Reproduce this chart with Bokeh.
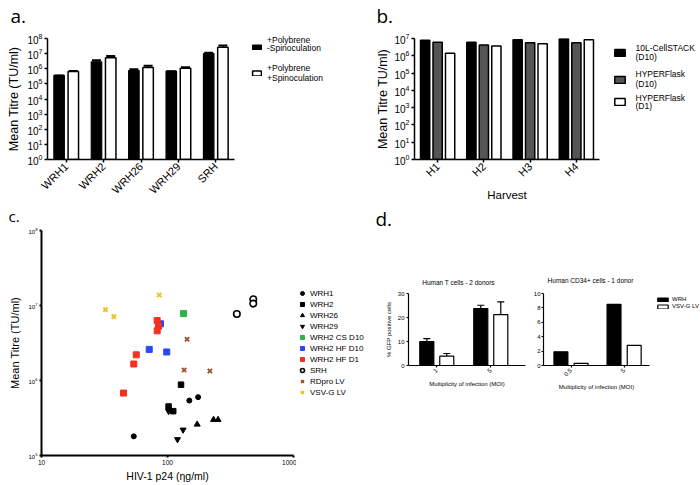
from math import pi
from bokeh.plotting import figure
from bokeh.models import (FactorRange, Range1d, FixedTicker, Label, Legend, LegendItem,
                          Whisker, ColumnDataSource, NumeralTickFormatter, TeeHead)
from bokeh.layouts import column, row
from bokeh.transform import dodge
from bokeh.embed import file_html
from bokeh.resources import INLINE

FONT = "Liberation Sans"
PFONT = "Open Sans"
NAN = float("nan")

# ---------------- data ----------------
# panel a
groups_a = ["WRH1", "WRH2", "WRH26", "WRH29", "SRH"]
titre_no_spin = [3.6e5, 2.9e6, 7.6e5, 6.9e5, 1.0e7]
titre_no_spin_hi = [3.6e5, 3.6e6, 9.2e5, 6.9e5, 1.16e7]
titre_spin = [6.6e5, 5.3e6, 1.23e6, 1.07e6, 2.6e7]
titre_spin_hi = [7.2e5, 7.0e6, 1.58e6, 1.24e6, 3.4e7]
ticks_a = [1, 1e1, 1e2, 1e3, 1e4, 1e5, 1e6, 1e7, 1e8]

# panel b
harvests = ["H1", "H2", "H3", "H4"]
cellstack_d10 = [8.0e6, 6.0e6, 8.5e6, 1.0e7]
hyperflask_d10 = [6.0e6, 4.2e6, 5.6e6, 5.6e6]
hyperflask_d1 = [1.4e6, 3.7e6, 5.0e6, 8.5e6]
ticks_b = [1, 1e1, 1e2, 1e3, 1e4, 1e5, 1e6, 1e7]

# panel c
wrh1_p24 = [54, 149, 175]
wrh1_titre = [1.8e5, 5.4e5, 6.0e5]
wrh2_p24 = [128, 102, 111]
wrh2_titre = [8.8e5, 4.5e5, 3.9e5]
wrh26_p24 = [172, 232, 252]
wrh26_titre = [2.6e5, 3.0e5, 3.0e5]
wrh29_p24 = [102, 133, 120]
wrh29_titre = [3.9e5, 2.2e5, 1.64e5]
cs_d10_p24 = [134]
cs_d10_titre = [7.8e6]
hf_d10_p24 = [88, 71.6, 98.6]
hf_d10_titre = [5.7e6, 2.6e6, 2.4e6]
hf_d1_p24 = [82.8, 84.9, 82.8, 56.5, 54, 44.8]
hf_d1_titre = [6.3e6, 5.3e6, 4.6e6, 2.2e6, 1.66e6, 6.8e5]
srh_p24 = [355, 479, 479]
srh_titre = [7.7e6, 1.21e7, 1.06e7]
rdpro_p24 = [143, 135.5, 217]
rdpro_titre = [3.55e6, 1.38e6, 1.34e6]
vsvg_p24 = [32.2, 37.5, 85.9]
vsvg_titre = [8.8e6, 7.1e6, 1.38e7]
ticks_cx = [10, 100, 1000]
ticks_cy = [1e5, 1e6, 1e7, 1e8]

# panel d
moi_t = ["1", "5"]
t_wrh = [10.0, 23.7]
t_wrh_hi = [11.2, 25.1]
t_vsv = [3.9, 21.2]
t_vsv_hi = [5.0, 26.5]
ticks_dt = [0, 10, 20, 30]
moi_cd34 = ["0.5", "5"]
cd34_wrh = [1.9, 8.5]
cd34_vsv = [0.3, 2.8]
ticks_dc = [0, 2, 4, 6, 8, 10]


# ---------------- helpers ----------------
def make_fig(width, height, left, right, top, bottom, **kw):
    p = figure(width=width, height=height, min_border_left=left, min_border_right=right,
               min_border_top=top, min_border_bottom=bottom, output_backend="svg",
               toolbar_location=None, title=None, **kw)
    p.xgrid.visible = False
    p.ygrid.visible = False
    p.outline_line_color = None
    p.background_fill_color = "white"
    p.border_fill_color = "white"
    return p


def blank_fig(left, top, width, height):
    """axis-less helper canvas whose data coordinates equal page pixels"""
    p = figure(width=width, height=height, x_range=Range1d(left, left + width),
               y_range=Range1d(top + height, top), x_axis_type=None, y_axis_type=None,
               output_backend="svg", toolbar_location=None, title=None,
               min_border_left=0, min_border_right=0, min_border_top=0, min_border_bottom=0)
    p.outline_line_color = None
    p.background_fill_color = "white"
    p.border_fill_color = "white"
    p._page = (left, top + height)
    return p


def style_axis(ax, tick_size, label_size=None, line_width=1.5, tick_out=3, standoff=2,
               label_standoff=3):
    ax.axis_line_width = line_width
    ax.axis_line_color = "black"
    ax.major_tick_line_width = line_width
    ax.major_tick_line_color = "black"
    ax.major_tick_out = tick_out
    ax.major_tick_in = 0
    ax.minor_tick_line_color = None
    ax.major_label_text_font = FONT
    ax.major_label_text_font_size = f"{tick_size}px"
    ax.major_label_text_color = "black"
    ax.major_label_standoff = standoff
    ax.axis_label_text_font = FONT
    ax.axis_label_text_font_style = "normal"
    ax.axis_label_text_color = "black"
    if label_size:
        ax.axis_label_text_font_size = f"{label_size}px"
    ax.axis_label_standoff = label_standoff


def txt(p, x, y, text, size, align="left", font=FONT):
    p.add_layout(Label(x=x, y=y, text=text, text_font=font, text_font_size=f"{size}px",
                       text_align=align, text_baseline="middle", text_color="black"))


def legend_at(p, items, x_left, y_bottom, gw, gh, size=8, spacing=0, standoff=3,
              label_height=None):
    left, bottom = p._page
    leg = Legend(items=items, location=(x_left - left, bottom - y_bottom), glyph_width=gw,
                 glyph_height=gh, padding=0, spacing=spacing, margin=0,
                 label_height=label_height if label_height is not None else gh,
                 label_standoff=standoff, label_text_font=FONT,
                 label_text_font_size=f"{size}px", label_text_color="black",
                 border_line_alpha=0, background_fill_alpha=0)
    p.add_layout(leg)


def bar_proxy(p, **style):
    # legend stand-in: one bar with no finite position, so nothing is drawn in the plot area
    return p.vbar(x=[NAN], top=[NAN], width=1, **style)


def swatch(p, x_left, y_bottom, gw, gh, **style):
    proxy = bar_proxy(p, **style)
    left, bottom = p._page
    leg = Legend(items=[LegendItem(label=" ", renderers=[proxy])],
                 location=(x_left - left, bottom - y_bottom), glyph_width=gw, glyph_height=gh,
                 padding=0, spacing=0, margin=0, label_height=gh, label_width=0,
                 label_standoff=0, label_text_font_size="1px",
                 border_line_alpha=0, background_fill_alpha=0)
    p.add_layout(leg)


# ---------------- top strip: panel letters a., b. ----------------
s_ab = blank_fig(0, 0, 700, 32)
txt(s_ab, 10, 15.2, "a.", 19, font=PFONT)
txt(s_ab, 376, 15.2, "b.", 19, font=PFONT)

# ---------------- panel a ----------------
src_a = ColumnDataSource(dict(group=groups_a, no_spin=titre_no_spin, no_spin_hi=titre_no_spin_hi,
                              spin=titre_spin, spin_hi=titre_spin_hi))
fa = make_fig(239, 171, 47, 5, 6, 41,
              x_range=FactorRange(factors=groups_a, range_padding=0),
              y_axis_type="log", y_range=Range1d(1, 1e8))
fa.vbar(x=dodge("group", -0.19, range=fa.x_range), top="no_spin", bottom=1, width=0.28,
        source=src_a, fill_color="black", line_color="black", line_width=1.2)
fa.vbar(x=dodge("group", 0.19, range=fa.x_range), top="spin", bottom=1, width=0.28,
        source=src_a, fill_color="white", line_color="black", line_width=1.5)
for off, lo, hi in [(-0.19, "no_spin", "no_spin_hi"), (0.19, "spin", "spin_hi")]:
    fa.add_layout(Whisker(base=dodge("group", off, range=fa.x_range), lower=lo, upper=hi,
                          source=src_a, line_width=1.5, lower_head=None,
                          upper_head=TeeHead(size=9, line_width=2)))
fa.yaxis.ticker = FixedTicker(ticks=ticks_a)
fa.yaxis.axis_label = "Mean Titre (TU/ml)"
style_axis(fa.yaxis[0], 10, 12.5, tick_out=3, standoff=2, label_standoff=3)
style_axis(fa.xaxis[0], 11, tick_out=3, standoff=2)
fa.xaxis.major_label_orientation = pi / 4

leg_a = blank_fig(239, 32, 111, 171)
swatch(leg_a, 251, 50, 11, 6, fill_color="black", line_color="black", line_width=1.2)
swatch(leg_a, 251, 76, 11, 6, fill_color="white", line_color="black", line_width=1.5)
txt(leg_a, 266.5, 39, "+Polybrene", 8.5)
txt(leg_a, 266.5, 47.7, "-Spinoculation", 8.5)
txt(leg_a, 266.5, 67.3, "+Polybrene", 8.5)
txt(leg_a, 266.5, 77.3, "+Spinoculation", 8.5)

# ---------------- panel b ----------------
src_b = ColumnDataSource(dict(h=harvests, cs=cellstack_d10, hf10=hyperflask_d10, hf1=hyperflask_d1))
fb = make_fig(254, 171, 64, 5, 6, 41,
              x_range=FactorRange(factors=harvests, range_padding=0),
              y_axis_type="log", y_range=Range1d(1, 1e7))
fb.vbar(x=dodge("h", -0.27, range=fb.x_range), top="cs", bottom=1, width=0.2, source=src_b,
        fill_color="black", line_color="black", line_width=1.5)
fb.vbar(x=dodge("h", 0.0, range=fb.x_range), top="hf10", bottom=1, width=0.2, source=src_b,
        fill_color="#555555", line_color="black", line_width=1.5)
fb.vbar(x=dodge("h", 0.27, range=fb.x_range), top="hf1", bottom=1, width=0.2, source=src_b,
        fill_color="white", line_color="black", line_width=1.5)
fb.yaxis.ticker = FixedTicker(ticks=ticks_b)
fb.yaxis.axis_label = "Mean Titre TU/ml)"
fb.xaxis.axis_label = "Harvest"
style_axis(fb.yaxis[0], 10, 12.5, tick_out=3, standoff=2, label_standoff=1)
style_axis(fb.xaxis[0], 11, 11.5, tick_out=3, standoff=2, label_standoff=3)
fb.xaxis.major_label_orientation = pi / 4

leg_b = blank_fig(604, 32, 96, 171)
swatch(leg_b, 613, 56.7, 13, 9, fill_color="black", line_color="black", line_width=1.5)
swatch(leg_b, 613, 84.2, 13, 9, fill_color="#555555", line_color="black", line_width=1.5)
swatch(leg_b, 613, 105.5, 13, 9, fill_color="white", line_color="black", line_width=1.5)
txt(leg_b, 635, 47.7, "10L-CellSTACK", 8.5)
txt(leg_b, 635, 56.7, "(D10)", 8.5)
txt(leg_b, 635, 73.5, "HYPERFlask", 8.5)
txt(leg_b, 635, 83, "(D10)", 8.5)
txt(leg_b, 635, 97, "HYPERFlask", 8.5)
txt(leg_b, 635, 105.5, "(D1)", 8.5)

# ---------------- panel c ----------------
s_c = blank_fig(0, 203, 296, 22)
txt(s_c, 8, 215, "c.", 15, font=PFONT)

fc = make_fig(296, 260, 41, 3, 5, 30, x_axis_type="log", y_axis_type="log",
              x_range=Range1d(10, 1000), y_range=Range1d(1e5, 1e8))
leg_c = blank_fig(296, 203, 79, 282)
series_c = [
    ("WRH1", wrh1_p24, wrh1_titre, dict(marker="circle", size=5, fill_color="black", line_color="black")),
    ("WRH2", wrh2_p24, wrh2_titre, dict(marker="square", size=5.5, fill_color="black", line_color="black")),
    ("WRH26", wrh26_p24, wrh26_titre, dict(marker="triangle", size=6, fill_color="black", line_color="black")),
    ("WRH29", wrh29_p24, wrh29_titre, dict(marker="inverted_triangle", size=6, fill_color="black", line_color="black")),
    ("WRH2 CS D10", cs_d10_p24, cs_d10_titre, dict(marker="square", size=6, fill_color="#2db34a", line_color="#2db34a")),
    ("WRH2 HF D10", hf_d10_p24, hf_d10_titre, dict(marker="square", size=6, fill_color="#2b46f5", line_color="#2b46f5")),
    ("WRH2 HF D1", hf_d1_p24, hf_d1_titre, dict(marker="square", size=6, fill_color="#f2311f", line_color="#f2311f")),
    ("SRH", srh_p24, srh_titre, dict(marker="circle", size=6.5, fill_color="white", line_color="black", line_width=1.6)),
    ("RDpro LV", rdpro_p24, rdpro_titre, dict(marker="x", size=6, line_color="#a0562b", line_width=2)),
    ("VSV-G LV", vsvg_p24, vsvg_titre, dict(marker="x", size=6, line_color="#e6c822", line_width=2)),
]
items_c = []
for name, xs, ys, kw in series_c:
    fc.scatter(x=xs, y=ys, **kw)
    proxy = leg_c.scatter(x=[NAN], y=[NAN], **kw)
    items_c.append(LegendItem(label=name, renderers=[proxy]))
legend_at(leg_c, items_c, 296, 397, 12, 10, size=8, spacing=1, standoff=2, label_height=10)
fc.xaxis.ticker = FixedTicker(ticks=ticks_cx)
fc.yaxis.ticker = FixedTicker(ticks=ticks_cy)
fc.xaxis.formatter = NumeralTickFormatter(format="0")
fc.xaxis.axis_label = "HIV-1 p24 (\u03b7g/ml)"
fc.yaxis.axis_label = "Mean Titre (TU/ml)"
style_axis(fc.xaxis[0], 6.5, 10.5, line_width=2, tick_out=2, standoff=2, label_standoff=2)
style_axis(fc.yaxis[0], 6, 11, line_width=2, tick_out=2, standoff=2, label_standoff=4)

# ---------------- panel d ----------------
ds = blank_fig(375, 203, 325, 83)
txt(ds, 375, 218, "d.", 19, font=PFONT)
txt(ds, 458, 281.5, "Human T cells - 2 donors", 6.5, align="center")
txt(ds, 590, 280, "Human CD34+ cells - 1 donor", 6.5, align="center")

src_dt = ColumnDataSource(dict(xi=list(range(len(moi_t))), wrh=t_wrh, wrh_hi=t_wrh_hi,
                               vsv=t_vsv, vsv_hi=t_vsv_hi))
fd1 = make_fig(155, 199, 33, 5, 7, 120, x_range=Range1d(-0.524, 1.643), y_range=Range1d(0, 30))
fd1.vbar(x=dodge("xi", -0.185), top="wrh", bottom=0, width=0.26, source=src_dt,
         fill_color="black", line_color="black", line_width=1.2)
fd1.vbar(x=dodge("xi", 0.185), top="vsv", bottom=0, width=0.26, source=src_dt,
         fill_color="white", line_color="black", line_width=1.2)
for off, lo, hi in [(-0.185, "wrh", "wrh_hi"), (0.185, "vsv", "vsv_hi")]:
    fd1.add_layout(Whisker(base=dodge("xi", off), lower=lo, upper=hi, source=src_dt,
                           line_width=1.2, lower_head=None, upper_head=TeeHead(size=7, line_width=1.2)))
fd1.xaxis.ticker = FixedTicker(ticks=list(range(len(moi_t))))
fd1.xaxis.major_label_overrides = {i: m for i, m in enumerate(moi_t)}
fd1.yaxis.ticker = FixedTicker(ticks=ticks_dt)
fd1.yaxis.axis_label = "% GFP positive cells"
fd1.xaxis.axis_label = "Multiplicity of infection (MOI)"
style_axis(fd1.xaxis[0], 6, 6, line_width=1.2, tick_out=2, standoff=2, label_standoff=3)
style_axis(fd1.yaxis[0], 6, 6, line_width=1.2, tick_out=2, standoff=2, label_standoff=3)
fd1.xaxis.major_label_orientation = pi / 4

src_dc = ColumnDataSource(dict(xi=list(range(len(moi_cd34))), wrh=cd34_wrh, vsv=cd34_vsv))
fd2 = make_fig(122, 199, 10, 3, 7, 120, x_range=Range1d(-0.518, 1.478), y_range=Range1d(0, 10))
fd2.vbar(x=dodge("xi", -0.19), top="wrh", bottom=0, width=0.262, source=src_dc,
         fill_color="black", line_color="black", line_width=1.2)
fd2.vbar(x=dodge("xi", 0.19), top="vsv", bottom=0, width=0.262, source=src_dc,
         fill_color="white", line_color="black", line_width=1.2)
fd2.xaxis.ticker = FixedTicker(ticks=list(range(len(moi_cd34))))
fd2.xaxis.major_label_overrides = {i: m for i, m in enumerate(moi_cd34)}
fd2.yaxis.ticker = FixedTicker(ticks=ticks_dc)
fd2.xaxis.axis_label = "Multiplicity of infection (MOI)"
style_axis(fd2.xaxis[0], 6, 6, line_width=1.2, tick_out=2, standoff=2, label_standoff=3)
style_axis(fd2.yaxis[0], 6, line_width=1.2, tick_out=2, standoff=1)
fd2.xaxis.major_label_orientation = pi / 4

leg_d = blank_fig(652, 286, 48, 199)
pd1 = bar_proxy(leg_d, fill_color="black", line_color="black", line_width=1.2)
pd2 = bar_proxy(leg_d, fill_color="white", line_color="black", line_width=1.2)
legend_at(leg_d, [LegendItem(label="WRH", renderers=[pd1]),
                  LegendItem(label="VSV-G LV", renderers=[pd2])],
          656, 309, 13, 5, size=6, spacing=1, standoff=3, label_height=5)

top_row = row(fa, column(leg_a), fb, column(leg_b))
dcol = column(ds, row(fd1, fd2, column(leg_d)))
cblock = column(row(s_c), fc)
bottom_row = row(cblock, column(leg_c), dcol)
layout = column(s_ab, top_row, bottom_row)
open("out.html", "w").write(file_html(layout, INLINE))
